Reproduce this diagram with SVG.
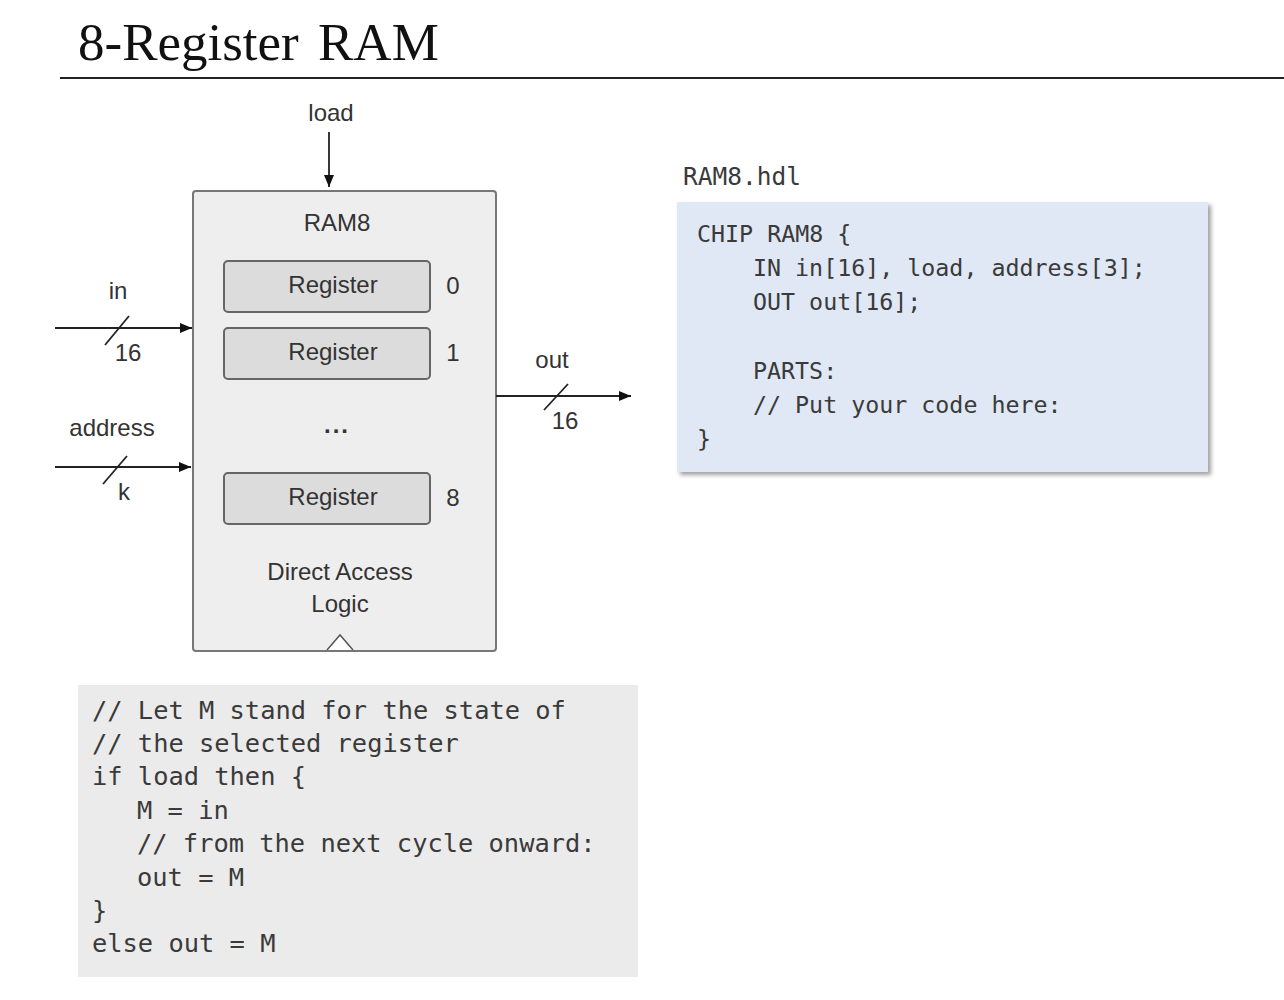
<svg xmlns="http://www.w3.org/2000/svg" width="1284" height="1000" viewBox="0 0 1284 1000">
<defs>
<marker id="arr" markerWidth="12" markerHeight="10" refX="12" refY="5" orient="auto" markerUnits="userSpaceOnUse">
<path d="M0,0 L12,5 L0,10 z" fill="#111"/>
</marker>
<filter id="sh" x="-5%" y="-5%" width="110%" height="115%">
<feDropShadow dx="3" dy="3" stdDeviation="2" flood-color="#888" flood-opacity="0.8"/>
</filter>
</defs>
<style>
.sans{font-family:"Liberation Sans",Arial,sans-serif;font-size:24px;fill:#333;}
.mid{text-anchor:middle;}
.mono{font-family:"DejaVu Sans Mono","Liberation Mono",monospace;fill:#3a3a3a;}
.wire{stroke:#222;stroke-width:1.8;fill:none;}
.reg{fill:#dcdcdc;stroke:#666;stroke-width:2;}
</style>
<rect width="1284" height="1000" fill="#fff"/>
<g id="title">
<text x="78" y="60" font-family="Liberation Serif,'Times New Roman',serif" font-size="53" fill="#111" word-spacing="6">8-Register RAM</text>
<line x1="60" y1="78" x2="1284" y2="78" stroke="#222" stroke-width="2"/>
</g>
<g id="ram8">
<rect x="193" y="191" width="303" height="460" rx="3" fill="#eeeeee" stroke="#777" stroke-width="2"/>
<text class="sans mid" x="337" y="231">RAM8</text>
<text class="sans mid" x="340" y="580">Direct Access</text>
<text class="sans mid" x="340" y="612">Logic</text>
<text class="sans mid" x="337" y="433" font-size="28" font-weight="bold" letter-spacing="2">...</text>
<path d="M327,650 L340,635 L353,650" fill="#fff" stroke="#555" stroke-width="1.5"/>
</g>
<g id="reg0">
<rect class="reg" x="224" y="261" width="206" height="51" rx="4"/>
<text class="sans mid" x="333" y="293">Register</text>
<text class="sans mid" x="453" y="294">0</text>
</g>
<g id="reg1">
<rect class="reg" x="224" y="328" width="206" height="51" rx="4"/>
<text class="sans mid" x="333" y="360">Register</text>
<text class="sans mid" x="453" y="361">1</text>
</g>
<g id="reg8">
<rect class="reg" x="224" y="473" width="206" height="51" rx="4"/>
<text class="sans mid" x="333" y="505">Register</text>
<text class="sans mid" x="453" y="506">8</text>
</g>
<g id="connectors">
<line class="wire" x1="329" y1="132" x2="329" y2="187" marker-end="url(#arr)"/>
<line class="wire" x1="55" y1="328" x2="192" y2="328" marker-end="url(#arr)"/>
<line class="wire" x1="105" y1="345" x2="129" y2="316"/>
<line class="wire" x1="55" y1="467" x2="191" y2="467" marker-end="url(#arr)"/>
<line class="wire" x1="103" y1="484" x2="127" y2="456"/>
<line class="wire" x1="496" y1="396" x2="631" y2="396" marker-end="url(#arr)"/>
<line class="wire" x1="544" y1="410" x2="568" y2="384"/>
</g>
<g id="labels">
<text class="sans mid" x="331" y="121">load</text>
<text class="sans mid" x="118" y="299">in</text>
<text class="sans mid" x="128" y="361">16</text>
<text class="sans mid" x="112" y="436">address</text>
<text class="sans mid" x="124" y="500">k</text>
<text class="sans mid" x="552" y="368">out</text>
<text class="sans mid" x="565" y="429">16</text>
</g>
<g id="hdl">
<text class="mono" x="683" y="185" font-size="24.5">RAM8.hdl</text>
<rect x="677" y="202" width="531" height="270" fill="#dfe8f4" filter="url(#sh)"/>
<g class="mono" font-size="23.3" xml:space="preserve">
<text x="697" y="242">CHIP RAM8 {</text>
<text x="753" y="276">IN in[16], load, address[3];</text>
<text x="753" y="310">OUT out[16];</text>
<text x="753" y="379">PARTS:</text>
<text x="753" y="413">// Put your code here:</text>
<text x="697" y="447">}</text>
</g>
</g>
<g id="behavior">
<rect x="78" y="685" width="560" height="292" fill="#ebebeb"/>
<g class="mono" font-size="25.4" xml:space="preserve">
<text x="92" y="719">// Let M stand for the state of</text>
<text x="92" y="752">// the selected register</text>
<text x="92" y="785">if load then {</text>
<text x="137" y="819">M = in</text>
<text x="137" y="852">// from the next cycle onward:</text>
<text x="137" y="886">out = M</text>
<text x="92" y="919">}</text>
<text x="92" y="952">else out = M</text>
</g>
</g>
</svg>
